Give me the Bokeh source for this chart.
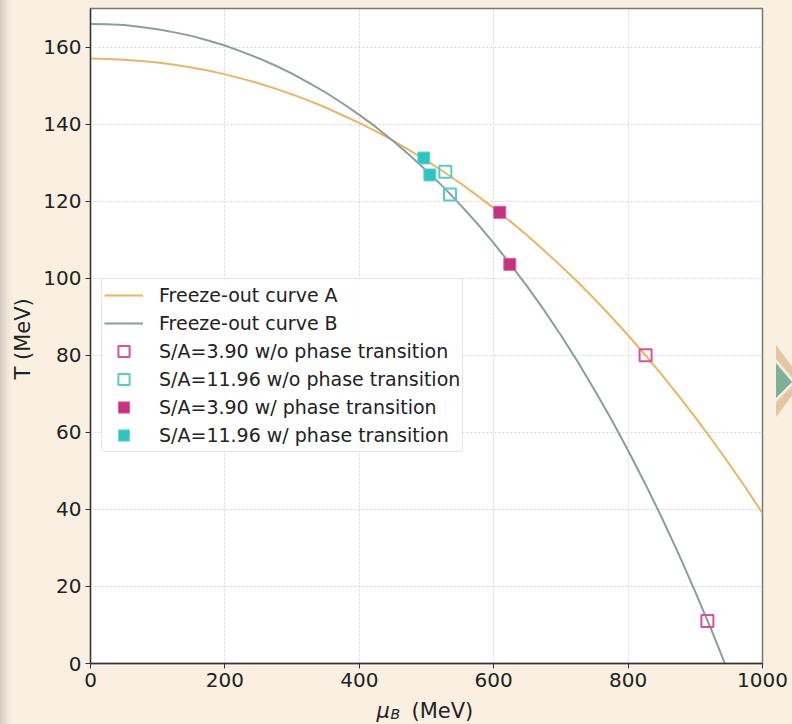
import numpy as np
from bokeh.plotting import figure
from bokeh.models import Label, Legend, LegendItem, FixedTicker, Range1d
from bokeh.embed import file_html
from bokeh.resources import INLINE

# ---- data ----
mu_curve_A = [0, 25, 50, 75, 100, 125, 150, 175, 200, 225, 250, 275, 300, 325, 350, 375, 400, 425, 450, 475,
              500, 525, 550, 575, 600, 625, 650, 675, 700, 725, 750, 775, 800, 825, 850, 875, 900, 925, 950, 975, 1000]
T_curve_A = [157.0, 156.9, 156.7, 156.4, 156.0, 155.4, 154.7, 153.9, 152.9, 151.8, 150.6, 149.2, 147.7, 146.1,
             144.3, 142.3, 140.3, 138.1, 135.7, 133.2, 130.5, 127.7, 124.7, 121.5, 118.2, 114.7, 111.1, 107.2,
             103.2, 99.0, 94.6, 90.0, 85.2, 80.2, 75.0, 69.5, 63.9, 58.0, 51.9, 45.6, 39.0]
mu_curve_B = [0, 25, 50, 75, 100, 125, 150, 175, 200, 225, 250, 275, 300, 325, 350, 375, 400, 425, 450, 475,
              500, 525, 550, 575, 600, 625, 650, 675, 700, 725, 750, 775, 800, 825, 850, 875, 900, 925, 950]
T_curve_B = [166.0, 165.9, 165.7, 165.2, 164.6, 163.8, 162.9, 161.7, 160.4, 158.8, 157.1, 155.2, 153.1, 150.7,
             148.2, 145.4, 142.4, 139.2, 135.7, 131.9, 127.9, 123.7, 119.1, 114.3, 109.1, 103.6, 97.8, 91.7,
             85.2, 78.3, 71.0, 63.4, 55.3, 46.8, 37.9, 28.5, 18.6, 8.3, -2.6]

mu_sa390_wo = [826, 918]
T_sa390_wo = [80.0, 11.0]
mu_sa1196_wo = [528, 535]
T_sa1196_wo = [127.6, 121.7]
mu_sa390_w = [609, 624]
T_sa390_w = [117.1, 103.6]
mu_sa1196_w = [496, 505]
T_sa1196_w = [131.2, 126.8]

x_ticks = [0, 200, 400, 600, 800, 1000]
y_ticks = [0, 20, 40, 60, 80, 100, 120, 140, 160]

labels = ["Freeze-out curve A", "Freeze-out curve B",
          "S/A=3.90 w/o phase transition", "S/A=11.96 w/o phase transition",
          "S/A=3.90 w/ phase transition", "S/A=11.96 w/ phase transition"]

BG = "#faf0e2"
FONT = "DejaVu Sans"

deco_svg = ("data:image/svg+xml;utf8,<svg xmlns='http://www.w3.org/2000/svg' width='792' height='724'>"
            "<polygon points='776,345 803,381 776,417' fill='%23e2c7a2'/>"
            "<polygon points='776,359 796,382 776,402' fill='%23f7ecdd'/>"
            "<polygon points='776,363 792,382 776,398' fill='%237db096'/></svg>")

p = figure(width=792, height=724, frame_width=672, frame_height=655,
           min_border_left=90, min_border_right=30, min_border_top=8, min_border_bottom=61,
           x_range=Range1d(0, 1000), y_range=Range1d(0, 170),
           output_backend="svg", toolbar_location=None)

p.styles = {
    "background": ("url(\"" + deco_svg + "\") no-repeat 0 0, "
                   "linear-gradient(to right, #d3cabf 0px, #e3dacd 4px, #efe5d8 8px, " + BG + " 12px)"),
}
p.background_fill_color = "white"
p.border_fill_color = BG
p.border_fill_alpha = 0
p.outline_line_color = "#777777"
p.outline_line_width = 1.5

for ax in (p.xaxis[0], p.yaxis[0]):
    ax.major_label_text_font = FONT
    ax.major_label_text_font_size = "20px"
    ax.major_label_text_color = "#222222"
    ax.axis_line_color = "#333333"
    ax.axis_line_width = 1.3
    ax.major_tick_line_color = "#333333"
    ax.major_tick_out = 5
    ax.major_tick_in = 0
    ax.minor_tick_line_color = None
    ax.major_label_standoff = 4
p.xaxis[0].ticker = FixedTicker(ticks=x_ticks)
p.yaxis[0].ticker = FixedTicker(ticks=y_ticks)

for g in (p.xgrid[0], p.ygrid[0]):
    g.grid_line_color = "#d6d6d6"
    g.grid_line_dash = "2 2"
    g.grid_line_width = 1

lA = p.line(mu_curve_A, T_curve_A, line_color="#ebb562", line_width=2)
lB = p.line(mu_curve_B, T_curve_B, line_color="#8c9d9d", line_width=2)

MAG = "#c5307f"
TEAL = "#2ec4c0"
s3w = p.scatter(mu_sa390_w, T_sa390_w, marker="square", size=12, fill_color=MAG, line_color="#d8629f", line_width=1)
s11w = p.scatter(mu_sa1196_w, T_sa1196_w, marker="square", size=12, fill_color=TEAL, line_color="#6ad4d1", line_width=1)
s3wo = p.scatter(mu_sa390_wo, T_sa390_wo, marker="square", size=12, fill_alpha=0, line_color="#d4529a", line_width=2)
s11wo = p.scatter(mu_sa1196_wo, T_sa1196_wo, marker="square", size=12, fill_alpha=0, line_color="#56cdca", line_width=2)

legend = Legend(items=[
    LegendItem(label=labels[0], renderers=[lA]),
    LegendItem(label=labels[1], renderers=[lB]),
    LegendItem(label=labels[2], renderers=[s3wo]),
    LegendItem(label=labels[3], renderers=[s11wo]),
    LegendItem(label=labels[4], renderers=[s3w]),
    LegendItem(label=labels[5], renderers=[s11w]),
], location=(11, 211))
legend.label_text_font = FONT
legend.label_text_font_size = "19px"
legend.label_text_color = "#222222"
legend.glyph_width = 39
legend.glyph_height = 28
legend.label_height = 20
legend.label_standoff = 16
legend.spacing = 0
legend.padding = 2
legend.margin = 0
legend.border_line_color = "#cccccc"
legend.border_line_width = 1
legend.border_radius = 4
legend.background_fill_color = "white"
legend.background_fill_alpha = 0.85
p.add_layout(legend, "center")

# axis titles; placed in side panels (canvas coordinates) so they are not clipped to the frame
def lab(text, x, y, size, italic=False, angle=0.0):
    return Label(x=x, y=y, x_units="canvas", y_units="canvas", text=text,
                 text_font=FONT, text_font_size=size, text_font_style="italic" if italic else "normal",
                 text_color="#222222", text_baseline="alphabetic", text_align="left", angle=angle)

p.add_layout(lab("(MeV)", 411, 710, "21px"), "below")
p.add_layout(lab("μ", 376, 710, "21px", italic=True), "right")
p.add_layout(lab("B", 390, 713, "14px", italic=True), "right")
p.add_layout(lab("T (MeV)", 22, 379, "21px", angle=np.pi / 2), "left")

open("out.html", "w").write(file_html(p, INLINE))
